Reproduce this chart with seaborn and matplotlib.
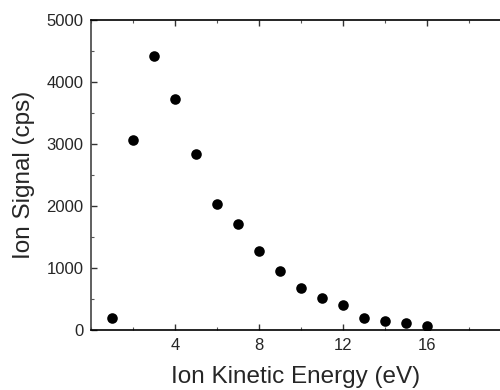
"""Ion signal vs ion kinetic energy - scatter"""
import matplotlib
matplotlib.use('Agg')
import matplotlib.pyplot as plt
from matplotlib.ticker import MultipleLocator
import seaborn as sns
import pandas as pd

energy_ev = [1, 2, 3, 4, 5, 6, 7, 8, 9, 10, 11, 12, 13, 14, 15, 16]
signal_cps = [190, 3065, 4420, 3720, 2830, 2030, 1710, 1280, 950, 680, 510, 400, 195, 140, 113, 60]

sns.set_style('ticks')
plt.rcParams['font.family'] = ['Liberation Sans', 'DejaVu Sans']

df = pd.DataFrame({'energy': energy_ev, 'signal': signal_cps})

fig = plt.figure(figsize=(5, 3.9), dpi=100)
ax = fig.add_axes([0.182, 0.154, 0.818, 0.795])

sns.scatterplot(data=df, x='energy', y='signal', color='black',
                s=58, edgecolor='black', linewidth=0, ax=ax)

ax.set_xlim(0, 19.5)
ax.set_ylim(0, 5000)
ax.xaxis.set_major_locator(MultipleLocator(4))
ax.xaxis.set_minor_locator(MultipleLocator(2))
ax.yaxis.set_major_locator(MultipleLocator(1000))
ax.yaxis.set_minor_locator(MultipleLocator(500))
ax.set_xticks([4, 8, 12, 16])

ax.tick_params(which='major', direction='in', length=4, width=1, labelsize=12,
               top=True, color='#333333')
ax.tick_params(axis='y', which='major', pad=5.5)
ax.tick_params(axis='x', which='major', pad=6)
ax.tick_params(which='minor', direction='in', length=2.5, width=0.8, top=True,
               color='#555555')

for side in ['left', 'bottom', 'top']:
    ax.spines[side].set_color('black')
    ax.spines[side].set_linewidth(1.2)
ax.spines['left'].set_color('#444444')
ax.spines['right'].set_visible(False)

ax.set_xlabel('Ion Kinetic Energy (eV)', fontsize=17.5, labelpad=9)
ax.set_ylabel('Ion Signal (cps)', fontsize=17.5, labelpad=8)

fig.savefig('out.png', dpi=100)
plt.close(fig)
